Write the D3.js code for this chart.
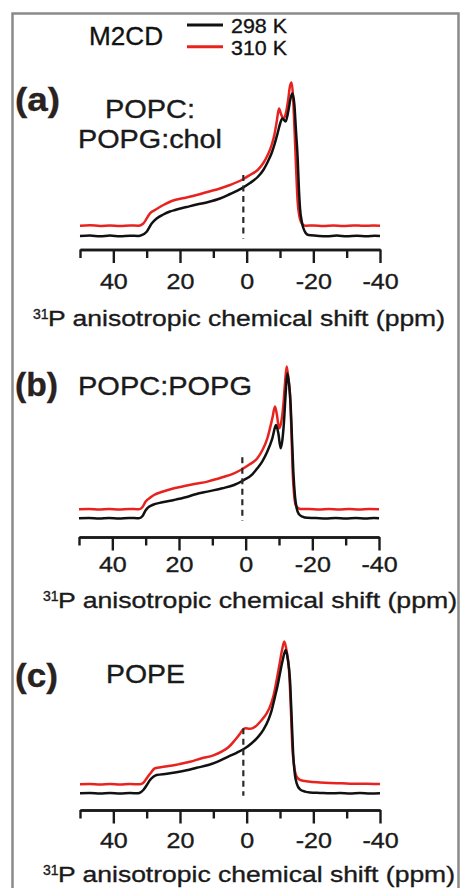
<!DOCTYPE html>
<html>
<head>
<meta charset="utf-8">
<script src="https://cdn.jsdelivr.net/npm/d3@7"></script>
<style>
  body { margin: 0; background: #fff; }
  svg { display: block; font-family: "Liberation Sans", Arial, sans-serif; }
  svg text { stroke: #1a1a1a; stroke-width: 0.35px; }
</style>
</head>
<body>
<svg id="chart" width="460" height="888"></svg>
<script>
// ---- values ----
const xDomain = [50, -40];
const majorTicks = [40, 20, 0, -20, -40];
const minorTicks = [50, 30, 10, -10, -30];
const panelTags = ['(a)', '(b)', '(c)'];
const sampleNames = [['POPC:', 'POPG:chol'], ['POPC:POPG'], ['POPE']];
const temperatures = ['298 K', '310 K'];
const peptide = 'M2CD';
const isotope = '31';
const axisTitle = 'P anisotropic chemical shift (ppm)';
const isotropicMark = 1;   // ppm of the dashed marker
const markTop = [61, 61, 65];

// [ppm, intensity]  (310 K traces keep the vertical offset seen in the figure)
const popcPopgChol298 = [[50,0],[47,0.5],[44,-0.3],[41,0.4],[38,-0.2],[35,0.3],[32.5,0],[31.5,0.8],[30,4.3],[28.5,12.5],[27,17.5],[25,21.5],[23,24.5],[21.5,26],[18,29],[15,31.5],[11.5,34],[8,37.5],[5,42],[1.5,47.7],[-1,53],[-3.3,59],[-5,66],[-6.3,74],[-7.5,83],[-8.3,91],[-9.3,103],[-10,112],[-10.7,117.5],[-11.7,114.5],[-12.5,125],[-13.2,138],[-13.7,142.5],[-14.3,132],[-14.8,105],[-15.3,78],[-15.7,45],[-16,28],[-16.5,15],[-17,8],[-17.7,3],[-18.5,1],[-21,0.3],[-24,-0.3],[-27,0.4],[-30,-0.2],[-33,0.3],[-36,-0.3],[-38.5,0.2],[-40,0]];
const popcPopgChol310 = [[50,10.3],[47,10.8],[44,10],[41,10.6],[38,10.1],[35,10.5],[32.5,10.3],[31,12.5],[29,22.7],[27.5,26],[25,31],[22.5,35],[18,38.5],[15,41],[11.5,44.3],[8,47.5],[5,51],[1.5,56],[-1,61],[-3.3,66],[-5,73],[-6.3,81],[-7.5,91],[-8.3,101],[-9,114],[-9.7,127.5],[-10.3,122],[-11,117.5],[-11.7,122],[-12.4,135],[-13,150],[-13.5,153.5],[-13.9,140],[-14.3,111],[-14.8,70],[-15.3,34],[-15.8,20],[-16.3,14],[-17,11],[-17.8,10.3],[-20,10.6],[-23,10],[-26,10.5],[-29,10.1],[-32,10.6],[-35,10.2],[-38,10.5],[-40,10.3]];

const popcPopg298 = [[50,0],[47,0.4],[44,-0.3],[41,0.3],[38,-0.2],[35,0.4],[32,0],[31,2],[30,8],[29,11.5],[28,13.3],[25,16],[21.5,18.3],[18,21],[15,24],[11.5,26.7],[7,30],[3.5,33.3],[0.5,38.3],[-2,44],[-3.5,50],[-5,57],[-6.5,66.7],[-8,80],[-9.1,93.3],[-9.8,85],[-10.5,70],[-11,78],[-11.5,96.7],[-12,125],[-12.5,145],[-13,135],[-13.5,113],[-13.9,80],[-14.3,46.7],[-14.8,22],[-15.3,10],[-16,4],[-17,1.7],[-18.5,0.5],[-21,0.3],[-24,-0.3],[-27,0.4],[-30,-0.2],[-33,0.3],[-36,-0.3],[-38.5,0.2],[-40,0]];
const popcPopg310 = [[50,9],[47,9.4],[44,8.7],[41,9.3],[38,8.8],[35,9.4],[32,9],[31,11],[30,16.7],[28.5,21],[27.5,23.3],[25,26.5],[21.5,30],[18,32.5],[15,34.5],[11.5,36.7],[7,41],[3.5,45],[1.5,48.3],[-1,53.5],[-3.5,60],[-5,68],[-6.5,80],[-8,100],[-8.8,111.7],[-9.4,103],[-10,90],[-10.6,95],[-11.3,113.3],[-11.8,135],[-12.3,151.7],[-12.8,140],[-13.3,123.3],[-13.7,90],[-14.1,46.7],[-14.5,25],[-15,13.3],[-15.7,10.3],[-16.5,9.3],[-19,9.3],[-22,8.8],[-25,9.4],[-28,8.9],[-31,9.3],[-34,8.8],[-37,9.3],[-40,9]];

const pope298 = [[50,0],[47,0.3],[44,-0.2],[41,0.3],[38,-0.2],[35,0.2],[32.5,0],[31,3.3],[30,8],[29,13.3],[28,16.5],[27,18.3],[24,19.5],[21.5,20.7],[18,23],[15,25.5],[11.5,28.3],[8.5,32],[5.5,36.7],[3,40.5],[0.5,45],[-1.5,50],[-3.5,56.7],[-5,63.5],[-6.5,73.3],[-7.5,83],[-8.5,96.7],[-9.3,108],[-10,120],[-10.8,133],[-11.7,143.3],[-12.3,135],[-13,113.3],[-13.5,75],[-14,36.7],[-14.5,18],[-15,10],[-16,4],[-17.5,1.7],[-19,0.8],[-22,0.4],[-25,0],[-28,0.3],[-31,-0.2],[-34,0.2],[-37,-0.2],[-40,0]];
const pope310 = [[50,9],[47,9.3],[44,8.8],[41,9.3],[38,8.8],[35,9.2],[32,9],[31,10.5],[30,15],[29,19.5],[27.5,25],[25,26.5],[21.5,28.3],[17,31.5],[13.5,35],[10,38],[7.5,41.7],[5.5,46],[3.5,53.3],[2,59.5],[1.2,63.5],[0.3,65],[-0.8,64.5],[-2,65.5],[-3.2,68.5],[-4.5,73.3],[-6,80],[-7,86.7],[-8,97],[-9,113.3],[-9.8,128],[-10.6,143],[-11.3,151.7],[-12,142],[-12.7,123.3],[-13.2,90],[-13.7,46.7],[-14.3,26],[-15,16.7],[-16,13.5],[-18.5,11.7],[-22,10.8],[-25,10.3],[-28.5,10],[-32,9.6],[-36,9.5],[-40,9.3]];

const series = [
  [popcPopgChol298, popcPopgChol310],
  [popcPopg298, popcPopg310],
  [pope298, pope310]
];

// ---- layout (pixels) ----
const colors = ['#111111', '#e8231f'];
const layout = [
  { base: 236, axisY: 249.5, x0: 80, x1: 380, labelDy: 24,
    tag: { x: 15, y: 111, w: 45 },
    names: [{ x: 105, y: 118, w: 90 }, { x: 78, y: 148, w: 144 }],
    title: { y: 326, supX: 33, x: 48, w: 397 } },
  { base: 518.3, axisY: 537, x0: 79, x1: 379, labelDy: 19.5,
    tag: { x: 15, y: 396, w: 43 },
    names: [{ x: 78, y: 395, w: 174 }],
    title: { y: 608, supX: 43, x: 58, w: 399 } },
  { base: 793.3, axisY: 810, x0: 80, x1: 380, labelDy: 22,
    tag: { x: 15, y: 687, w: 43 },
    names: [{ x: 106, y: 683, w: 79 }],
    title: { y: 882, supX: 43, x: 58, w: 397 } }
];

const svg = d3.select('#chart');

// outer frame
svg.append('rect')
  .attr('x', 12.5).attr('y', 13.5)
  .attr('width', 446).attr('height', 900)
  .attr('fill', '#fff')
  .attr('stroke', '#8a8a8a')
  .attr('stroke-width', 2.5);

// header + legend
svg.append('text')
  .attr('x', 89).attr('y', 45)
  .attr('font-size', 25).attr('fill', '#111')
  .attr('textLength', 74).attr('lengthAdjust', 'spacingAndGlyphs')
  .text(peptide);

const legend = svg.append('g').attr('class', 'legend');
temperatures.forEach((t, i) => {
  const y = 25 + i * 21.7;
  legend.append('line')
    .attr('x1', 187).attr('x2', 223).attr('y1', y).attr('y2', y)
    .attr('stroke', colors[i]).attr('stroke-width', 3);
  legend.append('text')
    .attr('x', 231).attr('y', y + 7.8)
    .attr('font-size', 20.5).attr('fill', '#111')
    .attr('textLength', 56).attr('lengthAdjust', 'spacingAndGlyphs')
    .text(t);
});

function drawPanel(i) {
  const L = layout[i];
  const g = svg.append('g').attr('class', 'panel-' + i);

  const x = d3.scaleLinear().domain(xDomain).range([L.x0, L.x1]);
  const y = d3.scaleLinear().domain([0, 150]).range([L.base, L.base - 150]);

  const line = d3.line()
    .x(d => x(d[0]))
    .y(d => y(d[1]))
    .curve(d3.curveMonotoneX);

  // 310 K first, 298 K on top
  [1, 0].forEach(k => {
    g.append('path')
      .datum(series[i][k])
      .attr('d', line)
      .attr('fill', 'none')
      .attr('stroke', colors[k])
      .attr('stroke-width', 2.5)
      .attr('stroke-linejoin', 'round');
  });

  // dashed marker near 0 ppm
  g.append('line')
    .attr('x1', x(isotropicMark)).attr('x2', x(isotropicMark))
    .attr('y1', y(markTop[i])).attr('y2', y(-2.5))
    .attr('stroke', '#2a2a2a')
    .attr('stroke-width', 2.2)
    .attr('stroke-dasharray', '6,4.5');

  // axis: major + minor ticks
  const axisG = g.append('g').attr('transform', `translate(0,${L.axisY})`);
  const major = d3.axisBottom(x)
    .tickValues(majorTicks)
    .tickSize(13.5)
    .tickSizeOuter(0)
    .tickFormat(d => String(d));
  const minor = d3.axisBottom(x)
    .tickValues(minorTicks)
    .tickSize(8.5)
    .tickSizeOuter(0)
    .tickFormat('');
  axisG.append('g').call(minor);
  axisG.append('g').call(major);
  axisG.selectAll('path, line')
    .attr('stroke', '#1a1a1a')
    .attr('stroke-width', 2.4);
  axisG.selectAll('text')
    .attr('font-family', '"Liberation Sans", Arial, sans-serif')
    .attr('font-size', 22)
    .attr('fill', '#1a1a1a')
    .attr('y', L.labelDy)
    .attr('transform', 'scale(1.14,1)');

  // panel tag + sample name
  g.append('text')
    .attr('x', L.tag.x).attr('y', L.tag.y)
    .attr('font-size', 33).attr('font-weight', 'bold').attr('fill', '#2a2220')
    .style('stroke', '#2a2220')
    .attr('textLength', L.tag.w).attr('lengthAdjust', 'spacingAndGlyphs')
    .text(panelTags[i]);
  sampleNames[i].forEach((s, j) => {
    const p = L.names[j];
    g.append('text')
      .attr('x', p.x).attr('y', p.y)
      .attr('font-size', 25).attr('fill', '#1a1a1a')
      .attr('textLength', p.w).attr('lengthAdjust', 'spacingAndGlyphs')
      .text(s);
  });

  // axis title with superscript isotope
  g.append('text')
    .attr('x', L.title.supX).attr('y', L.title.y - 7)
    .attr('font-size', 14).attr('fill', '#1a1a1a')
    .text(isotope);
  g.append('text')
    .attr('x', L.title.x).attr('y', L.title.y)
    .attr('font-size', 22.4).attr('fill', '#1a1a1a')
    .attr('textLength', L.title.w).attr('lengthAdjust', 'spacingAndGlyphs')
    .text(axisTitle);
}

layout.forEach((_, i) => drawPanel(i));
</script>
</body>
</html>
